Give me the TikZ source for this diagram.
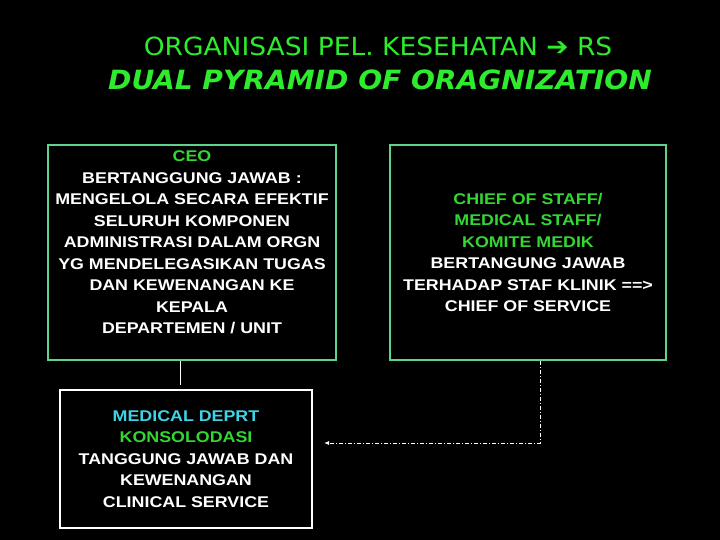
\documentclass[tikz,border=0pt]{standalone}
\usepackage{fontspec}
\setmainfont{Liberation Sans}[FakeStretch=1.15]
\newfontfamily\titlefont{DejaVu Sans}[FakeStretch=1.06]
\usepackage{xcolor}
\usepackage{tikz}
\usetikzlibrary{arrows.meta,positioning}
\definecolor{titlegreen}{HTML}{2EEB2E}
\definecolor{textgreen}{HTML}{33D633}
\definecolor{textcyan}{HTML}{3FD3E6}
\definecolor{boxgreen}{HTML}{5FD38D}
\begin{document}
\begin{tikzpicture}[x=1pt,y=1pt,
  panel/.style={draw=boxgreen,line width=1.1pt,inner sep=0pt},
  bodytext/.style={text=white,inner sep=0pt,align=center,font=\bfseries\fontsize{15.5}{21.5}\selectfont},
  link/.style={draw=white,line width=0.9pt}]
\fill[black] (0,0) rectangle (720,540);
\useasboundingbox (0,0) rectangle (720,540);
% title
\node[text=titlegreen,font=\titlefont\fontsize{25}{28}\selectfont] (title) at (378,494) {ORGANISASI PEL. KESEHATAN ➔ RS};
\node[text=titlegreen,font=\titlefont\bfseries\itshape\fontsize{26.5}{30}\selectfont] (subtitle) at (380,460) {DUAL PYRAMID OF ORAGNIZATION};
% boxes
\node[panel,minimum width=288,minimum height=215] (ceobox) at (192,287.5) {};
\node[panel,minimum width=276,minimum height=215] (staffbox) at (528,287.5) {};
\node[panel,draw=white,minimum width=252,minimum height=138] (deptbox) at (186,81) {};
\node[bodytext,below=6.5pt of ceobox.north] (ceotext) {\textcolor{textgreen}{CEO}\\BERTANGGUNG JAWAB :\\MENGELOLA SECARA EFEKTIF\\SELURUH KOMPONEN\\ADMINISTRASI DALAM ORGN\\YG MENDELEGASIKAN TUGAS\\DAN KEWENANGAN KE\\KEPALA\\DEPARTEMEN / UNIT};
\node[bodytext] (stafftext) at (staffbox) {\textcolor{textgreen}{CHIEF OF STAFF/}\\\textcolor{textgreen}{MEDICAL STAFF/}\\\textcolor{textgreen}{KOMITE MEDIK}\\BERTANGUNG JAWAB\\TERHADAP STAF KLINIK ==>\\CHIEF OF SERVICE};
\node[bodytext] (depttext) at (deptbox) {\textcolor{textcyan}{MEDICAL DEPRT}\\\textcolor{textgreen}{KONSOLODASI}\\TANGGUNG JAWAB DAN\\KEWENANGAN\\CLINICAL SERVICE};
% connectors
\coordinate (tip) at (324,97);
\draw[link] ([xshift=-12pt]ceobox.south) -- ++(0,-24);
\draw[link,line width=0.8pt,dash pattern=on 4pt off 2pt on 1pt off 2pt,-{Latex[length=5pt,width=4pt]}] ([xshift=12pt]staffbox.south) |- (tip);
\end{tikzpicture}
\end{document}
